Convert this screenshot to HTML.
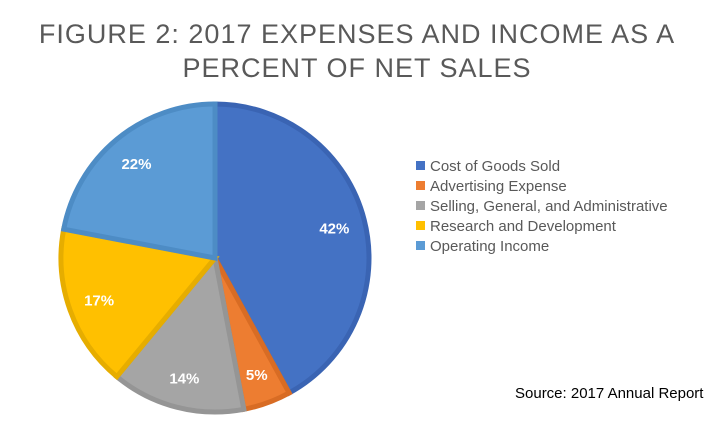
<!DOCTYPE html>
<html><head><meta charset="utf-8"><style>
body{margin:0;background:#fff;font-family:"Liberation Sans",sans-serif}
</style></head><body>
<svg width="714" height="421" viewBox="0 0 714 421">
<text x="357" y="43" text-anchor="middle" font-size="27" fill="#595959" letter-spacing="1">FIGURE 2: 2017 EXPENSES AND INCOME AS A</text>
<text x="357" y="77" text-anchor="middle" font-size="27" fill="#595959" letter-spacing="1">PERCENT OF NET SALES</text>
<g id="slices"></g>
<g id="legend"></g>
<text x="515" y="398" font-size="15" fill="#000">Source: 2017 Annual Report</text>
</svg>
<script>
const categories=["Cost of Goods Sold","Advertising Expense","Selling, General, and Administrative","Research and Development","Operating Income"];
const values=[42,5,14,17,22];
const labels=["42%","5%","14%","17%","22%"];
const fills=["#4472c4","#ed7d31","#a5a5a5","#ffc000","#5b9bd5"];
const strokes=["#3a64b3","#d86c24","#959595","#e6ad00","#4d8cc5"];
const NS="http://www.w3.org/2000/svg";
const cx=215,cy=258,r=154;
const total=values.reduce((a,b)=>a+b,0);
const g=document.getElementById('slices');
let acc=0;
function pt(a,rr){return [cx+rr*Math.sin(a),cy-rr*Math.cos(a)];}
values.forEach((v,i)=>{
  const a0=acc/total*2*Math.PI;acc+=v;const a1=acc/total*2*Math.PI;
  const p0=pt(a0,r),p1=pt(a1,r);
  const path=document.createElementNS(NS,'path');
  path.setAttribute('d',`M${cx},${cy}L${p0[0]},${p0[1]}A${r},${r} 0 ${a1-a0>Math.PI?1:0} 1 ${p1[0]},${p1[1]}Z`);
  path.setAttribute('fill',fills[i]);path.setAttribute('stroke',strokes[i]);path.setAttribute('stroke-width','5');path.setAttribute('stroke-linejoin','miter');
  
  
  g.appendChild(path);
});
acc=0;
values.forEach((v,i)=>{
  const am=(acc+v/2)/total*2*Math.PI;acc+=v;
  const lp=pt(am,r*0.8);
  const t=document.createElementNS(NS,'text');
  t.setAttribute('x',lp[0]);t.setAttribute('y',lp[1]+6);t.setAttribute('text-anchor','middle');
  t.setAttribute('font-size','15');t.setAttribute('font-weight','bold');t.setAttribute('fill','#fff');
  t.textContent=labels[i];
  
  
  g.appendChild(t);
});
const lg=document.getElementById('legend');
categories.forEach((c,i)=>{
  const y=166+i*20;
  const s=document.createElementNS(NS,'rect');
  s.setAttribute('x',416);s.setAttribute('y',y-5);s.setAttribute('width',9);s.setAttribute('height',9);s.setAttribute('fill',fills[i]);
  
  
  lg.appendChild(s);
  const t=document.createElementNS(NS,'text');
  t.setAttribute('x',430);t.setAttribute('y',y+5);t.setAttribute('font-size','15');t.setAttribute('fill','#595959');
  t.textContent=c;
  
  
  lg.appendChild(t);
});
</script>
</body></html>
